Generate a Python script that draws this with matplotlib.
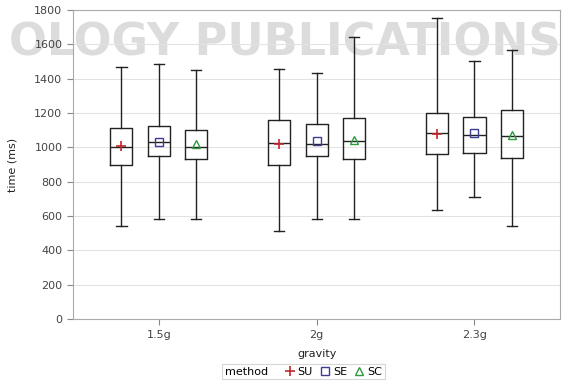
import matplotlib.pyplot as plt
from matplotlib.lines import Line2D
from matplotlib.offsetbox import HPacker

# gravity levels and methods
gravity = ['1.5g', '2g', '2.3g']
methods = ['SU', 'SE', 'SC']

# box statistics (ms), one list per method, ordered by gravity
su_low = [545, 513, 633]
su_q1 = [896, 896, 962]
su_med = [1001, 1025, 1085]
su_q3 = [1114, 1161, 1200]
su_high = [1470, 1455, 1752]
su_mean = [1007, 1017, 1081]

se_low = [583, 586, 709]
se_q1 = [949, 949, 968]
se_med = [1033, 1021, 1070]
se_q3 = [1126, 1136, 1177]
se_high = [1486, 1436, 1504]
se_mean = [1030, 1038, 1085]

sc_low = [586, 581, 544]
sc_q1 = [934, 934, 939]
sc_med = [1001, 1035, 1068]
sc_q3 = [1103, 1171, 1219]
sc_high = [1451, 1642, 1570]
sc_mean = [1017, 1042, 1075]

series = {
    'SU': (su_low, su_q1, su_med, su_q3, su_high, su_mean),
    'SE': (se_low, se_q1, se_med, se_q3, se_high, se_mean),
    'SC': (sc_low, sc_q1, sc_med, sc_q3, sc_high, sc_mean),
}
marker_style = {'SU': ('+', '#c0282d'), 'SE': ('s', '#3c3c96'), 'SC': ('^', '#2e9a3c')}
offsets = {'SU': -0.237, 'SE': 0.0, 'SC': 0.237}

fig = plt.figure(figsize=(5.69, 3.85), dpi=100)
ax = fig.add_axes([0.128, 0.171, 0.857, 0.803])

# faint watermark from the source page, drawn behind the axes
fig.text(0.5, 0.889, 'OLOGY PUBLICATIONS', fontsize=32, fontweight='bold',
         color='#dcdcdc', ha='center', va='center', zorder=-1)
ax.patch.set_alpha(0)

for m in methods:
    low, q1, med, q3, high, mean = series[m]
    stats = []
    for i in range(len(gravity)):
        stats.append({'whislo': low[i], 'q1': q1[i], 'med': med[i], 'q3': q3[i],
                      'whishi': high[i], 'mean': mean[i], 'fliers': []})
    pos = [i + 1 + offsets[m] for i in range(len(gravity))]
    ax.bxp(stats, positions=pos, widths=0.14, showmeans=False, showfliers=False,
           boxprops=dict(color='#222222', linewidth=1.0),
           whiskerprops=dict(color='#222222', linewidth=1.0),
           capprops=dict(color='#222222', linewidth=1.0),
           medianprops=dict(color='#222222', linewidth=1.0),
           capwidths=0.065)
    mk, col = marker_style[m]
    if mk == '+':
        ax.plot(pos, mean, linestyle='none', marker=mk, color=col, markersize=7,
                markeredgewidth=1.2, zorder=5)
    else:
        ax.plot(pos, mean, linestyle='none', marker=mk, markerfacecolor='none',
                markeredgecolor=col, markersize=6, markeredgewidth=1.0, zorder=5)

ax.set_xlim(0.455, 3.545)
ax.set_ylim(0, 1800)
ax.set_yticks(range(0, 1801, 200))
ax.set_xticks([1, 2, 3])
ax.set_xticklabels(gravity)
ax.yaxis.grid(True, color='#e3e3e3', linewidth=0.8)
ax.set_axisbelow(True)
for s in ax.spines.values():
    s.set_color('#aaaaaa')
    s.set_linewidth(0.8)
ax.tick_params(colors='#888888', labelcolor='#444444', labelsize=8, length=4, width=0.8)
ax.set_ylabel('time (ms)', fontsize=8, color='#222222', labelpad=12)
ax.set_xlabel('gravity', fontsize=8, color='#222222', labelpad=7)

handles = [Line2D([], [], linestyle='none', marker='+', color='#c0282d', markersize=7, markeredgewidth=1.2),
           Line2D([], [], linestyle='none', marker='s', markerfacecolor='none', markeredgecolor='#3c3c96', markersize=6),
           Line2D([], [], linestyle='none', marker='^', markerfacecolor='none', markeredgecolor='#2e9a3c', markersize=6)]
leg = fig.legend(handles, methods, title='method', loc='lower center', bbox_to_anchor=(0.533, 0.0),
                 ncol=3, fontsize=8, title_fontsize=8, frameon=True, fancybox=False,
                 handletextpad=0.2, columnspacing=0.6, borderpad=0.25, handlelength=1.0)
leg.get_frame().set_edgecolor('#cccccc')
leg.get_frame().set_linewidth(0.8)
# put the title on the left of the entries, in one row
title_box = leg._legend_box._children[0]
entries_box = leg._legend_box._children[1]
leg._legend_box._children = [HPacker(pad=0, sep=12, children=[title_box, entries_box], align='center')]

fig.savefig('out.png', dpi=100)
